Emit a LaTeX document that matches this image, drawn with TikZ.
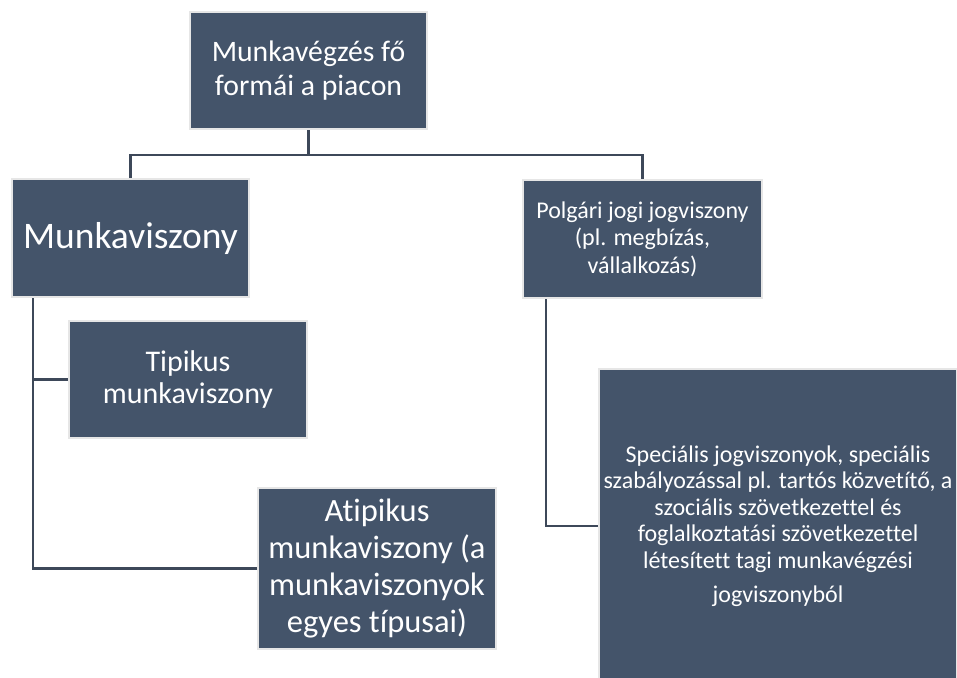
\documentclass[tikz,border=0pt]{standalone}
\usepackage{fontspec}
\setmainfont{Carlito}[Ligatures=NoCommon]
\definecolor{boxfill}{HTML}{44546A}
\definecolor{boxrim}{HTML}{E6E6E6}
\definecolor{linkcol}{HTML}{3D4859}
\begin{document}
\begin{tikzpicture}[x=1pt,y=-1pt,
  orgbox/.style={rectangle,fill=boxfill,draw=boxrim,line width=2pt,
    text=white,align=center,inner sep=2pt},
  link/.style={draw=linkcol,line width=2.6pt}]
\useasboundingbox (0,0) rectangle (957,677);
% boxes
\node[orgbox,minimum width=237pt,minimum height=117pt,
  font=\fontsize{29.7}{34}\selectfont] (forma) at (308.5,70.5)
  {Munkavégzés fő\\formái a piacon};
\node[orgbox,minimum width=237pt,minimum height=118pt,
  font=\fontsize{37.5}{44}\selectfont] (munka) at (130.5,238)
  {Munkaviszony};
\node[orgbox,minimum width=239pt,minimum height=118pt,
  font=\fontsize{24}{27.5}\selectfont] (polgari) at (642.5,239)
  {Polgári jogi jogviszony\\(pl. megbízás,\\vállalkozás)};
\node[orgbox,minimum width=238pt,minimum height=117pt,
  font=\fontsize{30}{32.5}\selectfont] (tipikus) at (188,379.5)
  {Tipikus\\munkaviszony};
\node[orgbox,minimum width=238pt,minimum height=161pt,
  font=\fontsize{32.5}{37}\selectfont] (atipikus) at (377,568.5)
  {Atipikus\\munkaviszony (a\\munkaviszonyok\\egyes típusai)};
\node[orgbox,minimum width=358pt,minimum height=314pt,
  font=\fontsize{24}{26.5}\selectfont] (specialis) at (778,526)
  {Speciális jogviszonyok, speciális\\szabályozással pl. tartós közvetítő, a\\szociális szövetkezettel és\\foglalkoztatási szövetkezettel\\létesített tagi munkavégzési\\[8pt]jogviszonyból};
% connectors
\draw[link] (forma.south) -- ++(0,25) -| (munka.north);
\draw[link] (forma.south) -- ++(0,25) -| (polgari.north);
\draw[link] ([xshift=22pt]munka.south west) |- (tipikus.west);
\draw[link] ([xshift=22pt]munka.south west) |- (atipikus.west);
\draw[link] ([xshift=24pt]polgari.south west) |- (specialis.west);
\end{tikzpicture}
\end{document}
